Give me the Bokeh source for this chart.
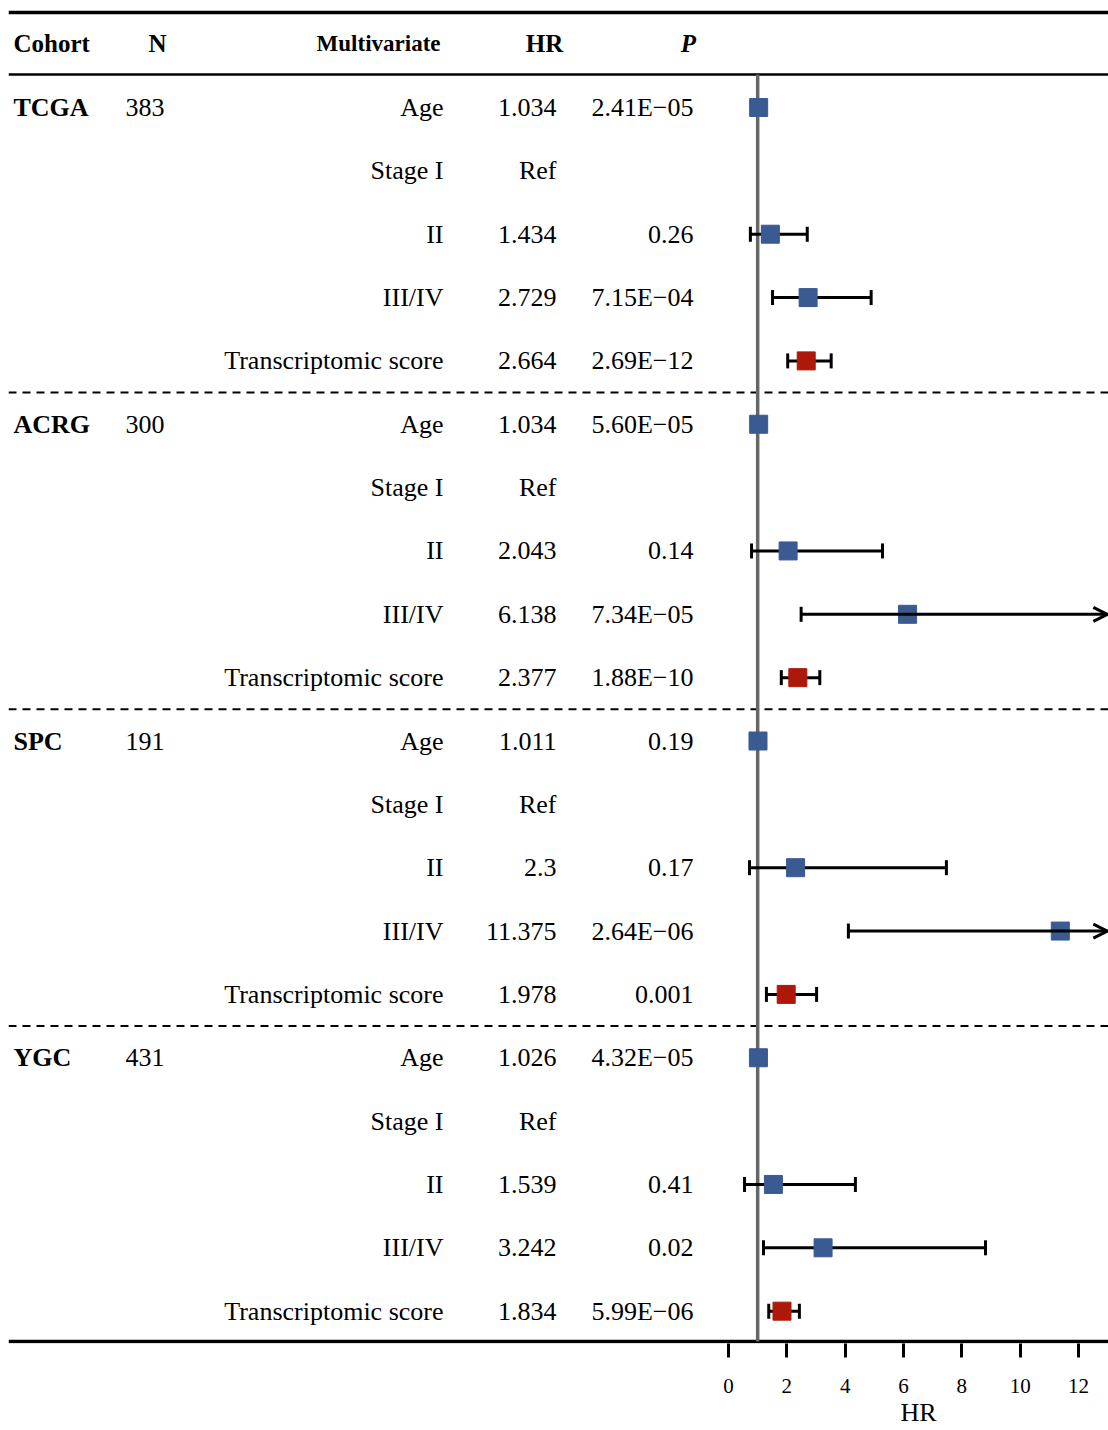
from bokeh.plotting import figure
from bokeh.models import (Range1d, LinearAxis, FixedTicker, Arrow, OpenHead, Title)
from bokeh.core.properties import value
from bokeh.embed import file_html
from bokeh.resources import INLINE

# ---------------- data ----------------
cohorts = ["TCGA", "ACRG", "SPC", "YGC"]
n_values = ["383", "300", "191", "431"]
variables = ["Age", "Stage I", "II", "III/IV", "Transcriptomic score"]

hr_labels = [
    ["1.034", "Ref", "1.434", "2.729", "2.664"],
    ["1.034", "Ref", "2.043", "6.138", "2.377"],
    ["1.011", "Ref", "2.3", "11.375", "1.978"],
    ["1.026", "Ref", "1.539", "3.242", "1.834"],
]
p_labels = [
    ["2.41E\u221205", "", "0.26", "7.15E\u221204", "2.69E\u221212"],
    ["5.60E\u221205", "", "0.14", "7.34E\u221205", "1.88E\u221210"],
    ["0.19", "", "0.17", "2.64E\u221206", "0.001"],
    ["4.32E\u221205", "", "0.41", "0.02", "5.99E\u221206"],
]
# estimated 95% CI; None for the reference level
ci_lower = [
    [1.018, None, 0.75, 1.51, 2.03],
    [1.018, None, 0.79, 2.49, 1.81],
    [0.99, None, 0.72, 4.11, 1.30],
    [1.014, None, 0.55, 1.20, 1.38],
]
ci_upper = [
    [1.050, None, 2.70, 4.89, 3.52],
    [1.051, None, 5.28, 15.1, 3.13],
    [1.03, None, 7.47, 31.4, 3.02],
    [1.039, None, 4.35, 8.81, 2.43],
]
hr_ticks = [0, 2, 4, 6, 8, 10, 12]

# ---------------- layout constants ----------------
W, H = 1108, 1430
RULE_Y = 1341
FRAME_BOTTOM = 1343
LEFT = 8
HR0_PX = 728.0
PX_PER_HR = 29.17
ROW0 = 107.0
ROW_STEP = 63.35
FONT = "Liberation Serif"
BLUE = "#3A5A92"
RED = "#AE180A"

p = figure(width=W, height=H, output_backend="svg", toolbar_location=None,
           x_range=Range1d(LEFT, W), y_range=Range1d(FRAME_BOTTOM, 0),
           x_axis_location=None, y_axis_location=None,
           min_border_left=LEFT, min_border_right=0, min_border_top=0,
           min_border_bottom=H - FRAME_BOTTOM)
p.outline_line_color = None
p.xgrid.visible = False
p.ygrid.visible = False
p.background_fill_color = "white"
p.border_fill_color = "white"

hr_start = (LEFT - HR0_PX) / PX_PER_HR
hr_end = (W - HR0_PX) / PX_PER_HR
p.extra_x_ranges = {"hr": Range1d(hr_start, hr_end)}

axis = LinearAxis(x_range_name="hr", ticker=FixedTicker(ticks=hr_ticks),
                  axis_line_color=None,
                  major_tick_in=0, major_tick_out=14, major_tick_line_width=3,
                  major_tick_line_color="black",
                  minor_tick_line_color=None,
                  major_label_text_font=FONT,
                  major_label_text_font_size="21px",
                  major_label_text_color="black",
                  major_label_standoff=21)
p.add_layout(axis, "below")

# axis title "HR", centred under the HR scale (0 .. right edge)
hr_title_center = HR0_PX + (W - HR0_PX) / 2
p.add_layout(Title(text="HR", align="right", offset=W - hr_title_center - 18,
                   text_font=FONT, text_font_style="normal",
                   text_font_size="26px", text_color="black", standoff=0),
             "below")

# ---------------- table rules ----------------
n_var = len(variables)
row_y = [ROW0 + i * ROW_STEP for i in range(len(cohorts) * n_var)]

p.segment(x0=[LEFT], x1=[W], y0=[12], y1=[12], line_color="black", line_width=3.5)
p.segment(x0=[LEFT], x1=[W], y0=[74], y1=[74], line_color="black", line_width=2.5)
p.segment(x0=[LEFT], x1=[W], y0=[RULE_Y], y1=[RULE_Y], line_color="black", line_width=3.5)
sep_y = [(row_y[k * n_var - 1] + row_y[k * n_var]) / 2 for k in range(1, len(cohorts))]
p.segment(x0=[LEFT] * len(sep_y), x1=[W] * len(sep_y), y0=sep_y, y1=sep_y,
          line_color="black", line_width=2, line_dash="8 6")

# ---------------- header ----------------
hdr = dict(text_font=value(FONT), text_font_size="25px", text_font_style="bold",
           text_baseline="middle", text_color="black")
p.text(x=[13], y=[43], text=["Cohort"], text_align="left", **hdr)
p.text(x=[157], y=[43], text=["N"], text_align="center", **hdr)
p.text(x=[440], y=[43], text=["Multivariate"], text_align="right",
       text_font=value(FONT), text_font_size="23px", text_font_style="bold",
       text_baseline="middle", text_color="black")
p.text(x=[544], y=[43], text=["HR"], text_align="center", **hdr)
p.text(x=[688], y=[43], text=["P"], text_align="center",
       text_font=value(FONT), text_font_size="25px", text_font_style="bold italic",
       text_baseline="middle", text_color="black")

# ---------------- body text ----------------
body = dict(text_font=value(FONT), text_font_size="26px",
            text_baseline="middle", text_color="black")
coh_y = [row_y[k * n_var] for k in range(len(cohorts))]
p.text(x=[13] * len(cohorts), y=coh_y, text=cohorts, text_align="left",
       text_font=value(FONT), text_font_size="26px", text_font_style="bold",
       text_baseline="middle", text_color="black")
p.text(x=[125] * len(cohorts), y=coh_y, text=n_values, text_align="left", **body)

var_col, hr_col, p_col = [], [], []
for k in range(len(cohorts)):
    var_col += variables
    hr_col += hr_labels[k]
    p_col += p_labels[k]
p.text(x=[443] * len(row_y), y=row_y, text=var_col, text_align="right", **body)
p.text(x=[556] * len(row_y), y=row_y, text=hr_col, text_align="right", **body)
p.text(x=[693] * len(row_y), y=row_y, text=p_col, text_align="right", **body)

# ---------------- forest ----------------
p.segment(x0=[1], x1=[1], y0=[74], y1=[RULE_Y], x_range_name="hr",
          line_color="#666666", line_width=3.5)

bar_x0, bar_x1, bar_y = [], [], []
cap_x, cap_y = [], []
pt_x, pt_y, pt_c = [], [], []
arrows = []
for k in range(len(cohorts)):
    for j in range(n_var):
        y = row_y[k * n_var + j]
        lo, hi = ci_lower[k][j], ci_upper[k][j]
        if lo is None:
            continue
        pt_x.append(float(hr_labels[k][j]))
        pt_y.append(y)
        pt_c.append(RED if variables[j] == "Transcriptomic score" else BLUE)
        cap_x.append(lo)
        cap_y.append(y)
        if hi > hr_end:
            arrows.append((lo, y))
        else:
            bar_x0.append(lo)
            bar_x1.append(hi)
            bar_y.append(y)
            cap_x.append(hi)
            cap_y.append(y)

p.segment(x0=bar_x0, x1=bar_x1, y0=bar_y, y1=bar_y, x_range_name="hr",
          line_color="black", line_width=3)
p.segment(x0=cap_x, x1=cap_x, y0=[y - 7.5 for y in cap_y], y1=[y + 7.5 for y in cap_y],
          x_range_name="hr", line_color="black", line_width=3)
for lo, y in arrows:
    p.add_layout(Arrow(x_start=lo, x_end=hr_end - 0.04, y_start=y, y_end=y,
                       x_range_name="hr", line_color="black", line_width=3,
                       end=OpenHead(size=14, line_width=3, line_color="black")))
p.scatter(x=pt_x, y=pt_y, marker="square", size=18, x_range_name="hr",
          fill_color=pt_c, line_color=pt_c, line_width=1)

open("out.html", "w").write(file_html(p, INLINE))
